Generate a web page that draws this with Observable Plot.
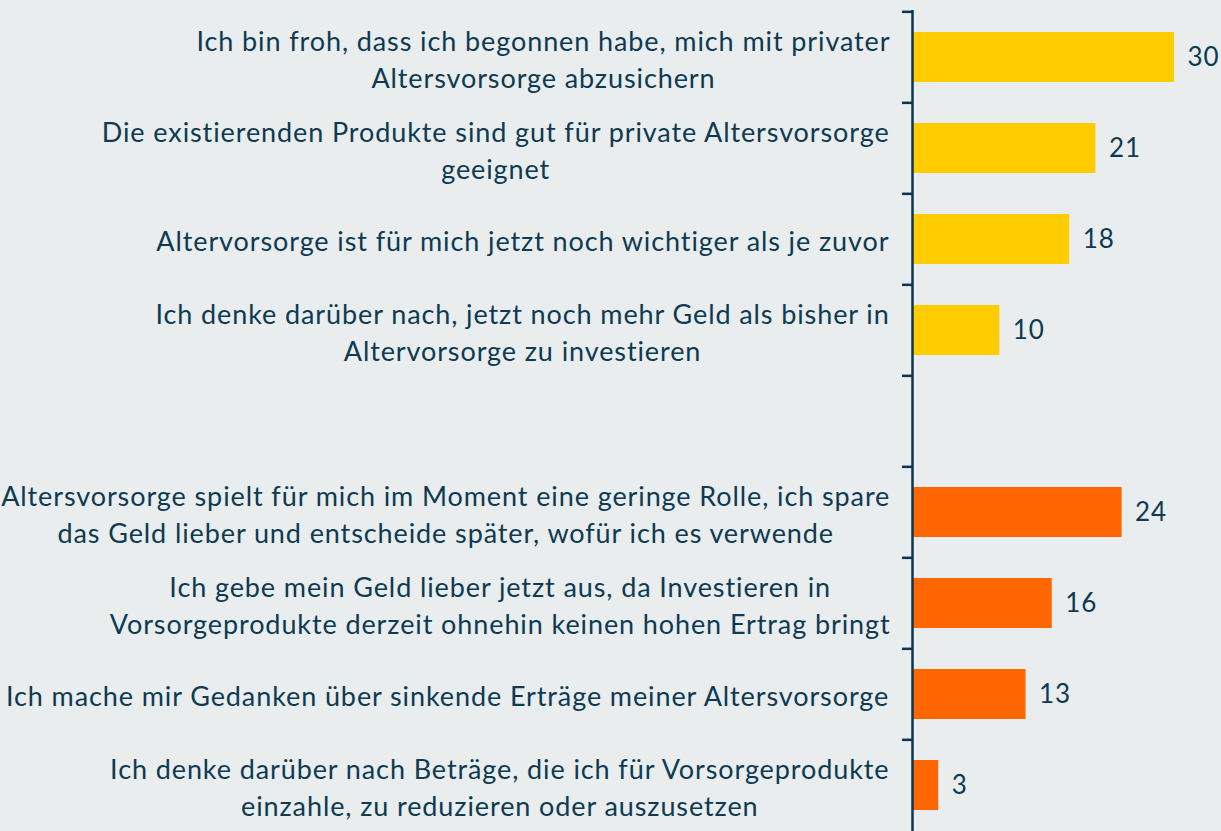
<!DOCTYPE html>
<html>
<head>
<meta charset="utf-8">
<script src="https://cdn.jsdelivr.net/npm/d3@7"></script>
<script src="https://cdn.jsdelivr.net/npm/@observablehq/plot@0.6"></script>
<style>
  html, body { margin: 0; padding: 0; background: #e9edee; overflow: hidden; }
  #chart svg { display: block; }
</style>
</head>
<body>
<div id="chart"></div>
<script>
// Data
const labels = [
  "Ich bin froh, dass ich begonnen habe, mich mit privater\nAltersvorsorge abzusichern",
  "Die existierenden Produkte sind gut für private Altersvorsorge\ngeeignet",
  "Altervorsorge ist für mich jetzt noch wichtiger als je zuvor",
  "Ich denke darüber nach, jetzt noch mehr Geld als bisher in\nAltervorsorge zu investieren",
  "Altersvorsorge spielt für mich im Moment eine geringe Rolle, ich spare\ndas Geld lieber und entscheide später, wofür ich es verwende",
  "Ich gebe mein Geld lieber jetzt aus, da Investieren in\nVorsorgeprodukte derzeit ohnehin keinen hohen Ertrag bringt",
  "Ich mache mir Gedanken über sinkende Erträge meiner Altersvorsorge",
  "Ich denke darüber nach Beträge, die ich für Vorsorgeprodukte\neinzahle, zu reduzieren oder auszusetzen"
];
const values = [30, 21, 18, 10, 24, 16, 13, 3];
const groups = ["positiv", "positiv", "positiv", "positiv", "negativ", "negativ", "negativ", "negativ"];
const gapLabel = " ";

const rows = labels.map((label, i) => ({label, value: values[i], group: groups[i]}));
const yDomain = [...labels.slice(0, 4), gapLabel, ...labels.slice(4)];

const FONT = "Lato, 'Open Sans', sans-serif";
const FS = 27;
const LS = 0.9; // letter spacing in px
const TEXT = "#0e3a52";
const AXIS = "#0b3550";

const width = 1221, height = 832, marginTop = 10, marginBottom = 0, marginLeft = 912, marginRight = 47;
const step = (height - marginTop - marginBottom) / yDomain.length;

// measure text widths to center the lines of each label block
const ctx = document.createElement("canvas").getContext("2d");
ctx.font = `${FS}px Lato`;
const lineWidth = (l) => ctx.measureText(l).width + LS * l.length;
const blockWidth = (s) => Math.max(...s.split("\n").map(lineWidth));

const labelMarks = rows.map(r => Plot.text([r], {
  y: "label",
  text: "label",
  frameAnchor: "left",
  textAnchor: "middle",
  lineAnchor: "middle",
  lineHeight: 1.37,
  dx: -22 - blockWidth(r.label) / 2,
  fontSize: FS,
  fill: TEXT
}));

const chart = Plot.plot({
  width, height, marginTop, marginBottom, marginLeft, marginRight,
  style: {background: "transparent", fontFamily: FONT, color: TEXT, letterSpacing: LS + "px"},
  x: {domain: [0, 30], axis: null},
  y: {domain: yDomain, paddingInner: 0.45, paddingOuter: 0.225, axis: null},
  color: {domain: ["positiv", "negativ"], range: ["#ffcc00", "#ff6600"]},
  marks: [
    Plot.barX(rows, {y: "label", x: "value", fill: "group"}),
    Plot.ruleX([0], {stroke: AXIS, strokeWidth: 2.5}),
    Plot.axisY(yDomain, {tickSize: 10, tickFormat: () => "", label: null, dy: -step / 2, stroke: AXIS, strokeWidth: 2.5}),
    Plot.text(rows, {y: "label", x: "value", text: d => String(d.value), textAnchor: "start", dx: 13, fontSize: 26, fill: TEXT}),
    ...labelMarks
  ]
});
document.getElementById("chart").appendChild(chart);
</script>
</body>
</html>
